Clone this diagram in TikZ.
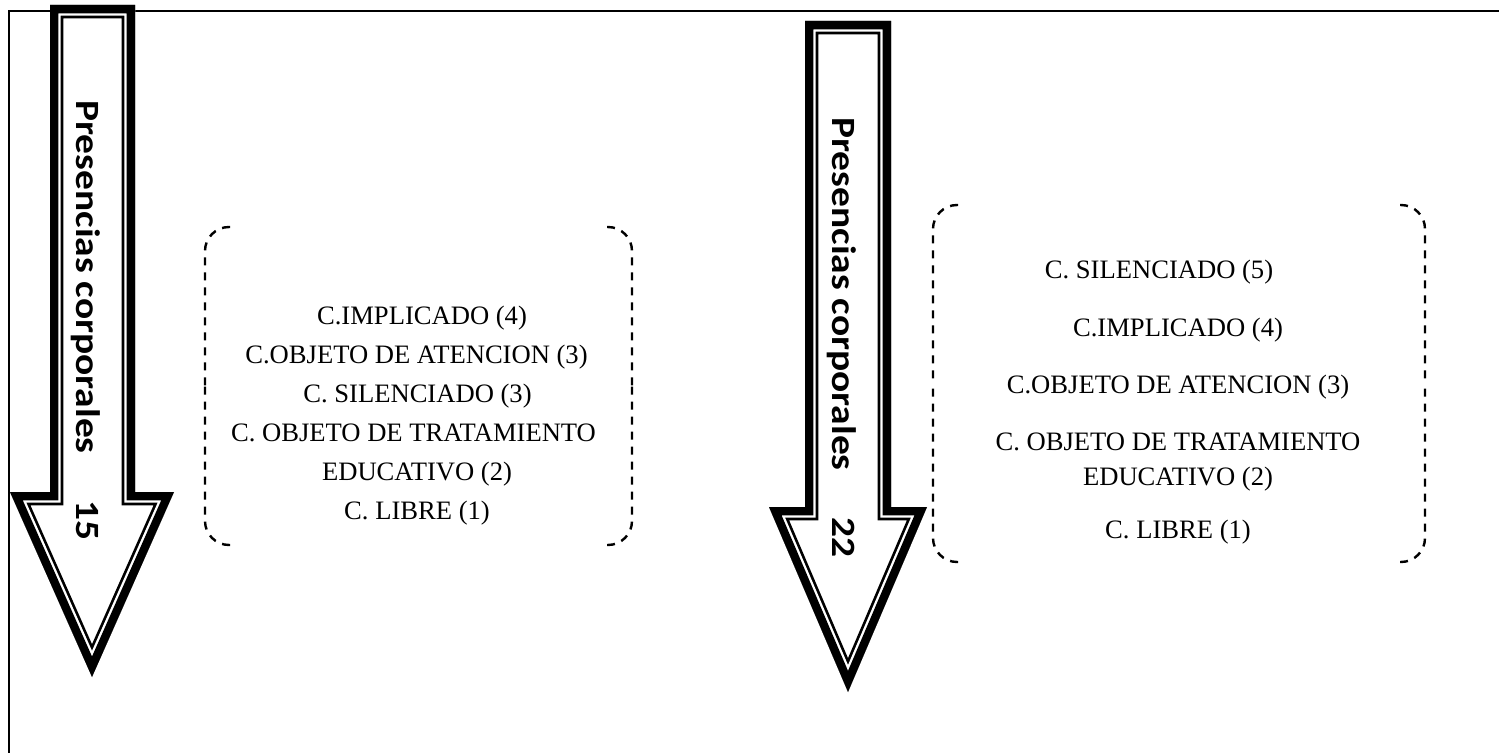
\documentclass[tikz,border=0pt]{standalone}
\usepackage{fontspec}
\setmainfont{Liberation Serif}
\newfontfamily\arrowfont{Carlito}
\usetikzlibrary{calc}
\newcommand{\blockarrow}[7]{%
  \fill[white] (#1,#3) -- (#2,#3) -- (#2,#4) -- (#6,#4) -- ({(#5+#6)/2},#7) -- (#5,#4) -- (#1,#4) -- cycle;
  \begin{scope}
    \clip (#1,#3) -- (#2,#3) -- (#2,#4) -- (#6,#4) -- ({(#5+#6)/2},#7) -- (#5,#4) -- (#1,#4) -- cycle;
    \draw[arrowband, line width=13.3pt] (#1,#3) -- (#2,#3) -- (#2,#4) -- (#6,#4) -- ({(#5+#6)/2},#7) -- (#5,#4) -- (#1,#4) -- cycle;
    \draw[arrowband, white, line width=10.6pt] (#1,#3) -- (#2,#3) -- (#2,#4) -- (#6,#4) -- ({(#5+#6)/2},#7) -- (#5,#4) -- (#1,#4) -- cycle;
    \draw[arrowband, line width=8.3pt] (#1,#3) -- (#2,#3) -- (#2,#4) -- (#6,#4) -- ({(#5+#6)/2},#7) -- (#5,#4) -- (#1,#4) -- cycle;
  \end{scope}}
% bracket pair: #1 = north-west coordinate name, #2 = south-east coordinate name
\newcommand{\bracketpair}[2]{%
  \draw[bracketline] ($(#1)+(25,0)$) -- (#1) -- ($(#1)!0.5!(#1 |- #2)$);
  \draw[bracketline] ($(#1 |- #2)+(25,0)$) -- (#1 |- #2) -- ($(#1)!0.5!(#1 |- #2)$);
  \draw[bracketline] ($(#2 |- #1)+(-25,0)$) -- (#2 |- #1) -- ($(#2)!0.5!(#2 |- #1)$);
  \draw[bracketline] ($(#2)+(-25,0)$) -- (#2) -- ($(#2)!0.5!(#2 |- #1)$);}
\tikzset{
  framestyle/.style={line width=1.3pt, black},
  arrowband/.style={black, line join=miter, miter limit=20},
  bracketline/.style={line width=1.2pt, dash pattern=on 4pt off 3.5pt, rounded corners=12pt},
  itemtext/.style={font=\fontsize{13.3pt}{15pt}\selectfont, inner sep=0pt, anchor=base},
  arrowlabel/.style={font=\arrowfont\bfseries\fontsize{17pt}{20pt}\selectfont, rotate=-90, anchor=base west, inner sep=0pt},
}
\begin{document}
\begin{tikzpicture}[x=0.5pt, y=-0.5pt]
\useasboundingbox (0,0) rectangle (1499,753);
% frame
\draw[framestyle] (1499,11) -- (9,11) -- (9,753);
% arrows
\blockarrow{50}{135}{5}{492}{10}{174}{677}
\blockarrow{805}{891}{21}{507}{769}{927}{692}
\node[arrowlabel] (lab1) at (76,100) {\scalebox{1.16}[1]{Presencias corporales}};
\node[arrowlabel] (num1) at (76,500) {\scalebox{1.16}[1]{15}};
\node[arrowlabel] (lab2) at (832,117) {\scalebox{1.16}[1]{Presencias corporales}};
\node[arrowlabel] (num2) at (832,517) {\scalebox{1.16}[1]{22}};
% box 1
\coordinate (b1nw) at (205,227);
\coordinate (b1se) at (632,545);
\bracketpair{b1nw}{b1se}
\node[itemtext] (a1) at (422,324.5) {C.IMPLICADO (4)};
\node[itemtext] (a2) at (416.5,363.5) {C.OBJETO DE ATENCION (3)};
\node[itemtext] (a3) at (417.5,402.5) {C. SILENCIADO (3)};
\node[itemtext] (a4) at (413.5,441.5) {C. OBJETO DE TRATAMIENTO};
\node[itemtext] (a5) at (417,480.5) {EDUCATIVO (2)};
\node[itemtext] (a6) at (417,519.5) {C. LIBRE (1)};
% box 2
\coordinate (b2nw) at (933,205);
\coordinate (b2se) at (1425,562);
\bracketpair{b2nw}{b2se}
\node[itemtext] (c1) at (1159,278.5) {C. SILENCIADO (5)};
\node[itemtext] (c2) at (1178,336.5) {C.IMPLICADO (4)};
\node[itemtext] (c3) at (1178,393.5) {C.OBJETO DE ATENCION (3)};
\node[itemtext] (c4) at (1178,450.5) {C. OBJETO DE TRATAMIENTO};
\node[itemtext] (c5) at (1178,485.5) {EDUCATIVO (2)};
\node[itemtext] (c6) at (1178,538.5) {C. LIBRE (1)};
\end{tikzpicture}
\end{document}
